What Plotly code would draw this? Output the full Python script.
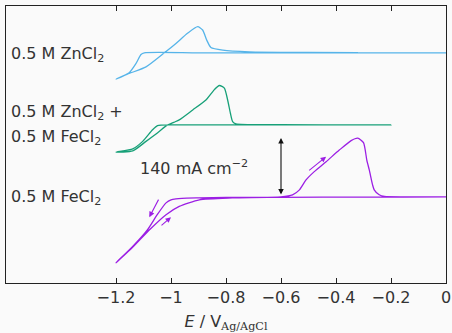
import plotly.graph_objects as go

# ---- data (potential in V vs Ag/AgCl, current density in mA cm^-2) ----
fe_E = [0, -0.3, -0.6, -0.8, -0.9, -0.96, -0.982, -1.0, -1.018, -1.05, -1.086, -1.141, -1.2,
        -1.144, -1.079, -1.018, -0.97, -0.897, -0.777, -0.6, -0.558, -0.533, -0.509, -0.479,
        -0.436, -0.388, -0.345, -0.321, -0.30, -0.288, -0.279, -0.267, -0.261, -0.243, -0.224,
        -0.15, 0]
fe_I = [0, -0.5, -1, -1.5, -2.5, -3.5, -4.8, -7, -14.5, -43, -80, -121, -159,
        -125, -80, -43, -23, -7, -2.4, 0, 5, 17, 41, 61,
        85, 113, 136, 142, 131, 89, 65, 29, 17, 5, 1,
        0, 0]

zf_E = [-0.2, -0.5, -0.764, -0.9, -1.0, -1.049, -1.067, -1.103, -1.139, -1.2,
        -1.139, -1.091, -1.043, -1.018, -0.99, -0.97, -0.921, -0.873, -0.843, -0.824,
        -0.806, -0.794, -0.784, -0.776, -0.764, -0.6, -0.2]
zf_I = [0, 0, 0, 0, 0, -1.7, -12, -40, -58, -66,
        -63, -40, -16, -2.4, 6, 12, 36, 60, 84.5, 95,
        88.6, 60, 28, 8, 2.4, 0.5, 0]

zn_E = [0, -0.5, -0.9, -1.097, -1.109, -1.127, -1.152, -1.2,
        -1.152, -1.091, -1.024, -0.982, -0.94, -0.903, -0.885, -0.87, -0.855, -0.812,
        -0.715, -0.5, -0.32]
zn_I = [0, 0, 0, 0, -4, -25.6, -48, -63.5,
        -50, -34, 0, 22.6, 47, 63, 55, 30.6, 13, 6.5,
        2.4, 1, 0.5]

offsets = {"zn": 348, "zf": 174, "fe": 0}
scale_bar = 140

tick_vals = [-1.2, -1.0, -0.8, -0.6, -0.4, -0.2, 0]
tick_text = ["\u22121.2", "\u22121", "\u22120.8", "\u22120.6", "\u22120.4", "\u22120.2", "0"]

labels = ["0.5 M ZnCl<sub>2</sub>", "0.5 M ZnCl<sub>2</sub> +", "0.5 M FeCl<sub>2</sub>", "0.5 M FeCl<sub>2</sub>"]

C_ZN = "#56b4e9"
C_ZF = "#17a078"
C_FE = "#9c1fe4"
FONT = "DejaVu Sans"
TXT = "#333333"
FS = 16

fig = go.Figure()
fig.add_trace(go.Scatter(x=zn_E, y=[v + offsets["zn"] for v in zn_I], mode="lines",
                         line=dict(color=C_ZN, width=1.3, shape="spline", smoothing=0.6)))
fig.add_trace(go.Scatter(x=zf_E, y=[v + offsets["zf"] for v in zf_I], mode="lines",
                         line=dict(color=C_ZF, width=1.3, shape="spline", smoothing=0.6)))
fig.add_trace(go.Scatter(x=fe_E, y=[v + offsets["fe"] for v in fe_I], mode="lines",
                         line=dict(color=C_FE, width=1.3, shape="spline", smoothing=0.6)))

ann = []
# labels
for txt, yv in zip(labels, [344, 203, 143.6, -1.2]):
    ann.append(dict(x=-1.588, y=yv, xref="x", yref="y", text=txt, showarrow=False,
                    xanchor="left", yanchor="middle", font=dict(family=FONT, size=FS, color=TXT)))
# sweep arrows (purple)
for (tx, ty, hx, hy) in [(-1.0425, -3, -1.079, -49), (-1.04, -72, -1.0, -49), (-0.503, 61, -0.436, 97)]:
    ann.append(dict(x=hx, y=hy, ax=tx, ay=ty, xref="x", yref="y", axref="x", ayref="y",
                    text="", showarrow=True, arrowhead=2, arrowsize=1, arrowwidth=1.1,
                    arrowcolor=C_FE))
# scale bar
ann.append(dict(x=-0.6, y=2 + scale_bar, ax=-0.6, ay=2, xref="x", yref="y", axref="x", ayref="y",
                text="", showarrow=True, arrowhead=2, startarrowhead=2, arrowside="end+start",
                arrowsize=1, arrowwidth=1.1, arrowcolor="#111111"))
ann.append(dict(x=-0.712, y=71, xref="x", yref="y", text=f"{scale_bar} mA cm<sup>\u22122</sup>",
                showarrow=False, xanchor="right", yanchor="middle",
                font=dict(family=FONT, size=FS, color=TXT)))

fig.update_layout(
    width=452, height=333,
    margin=dict(l=6, r=6, t=6, b=50),
    paper_bgcolor="#fafafa", plot_bgcolor="#fafafa",
    showlegend=False,
    annotations=ann,
    xaxis=dict(range=[-1.6, 0], tickvals=tick_vals, ticktext=tick_text,
               ticks="inside", ticklen=5, tickwidth=1, tickcolor="#222222",
               showline=True, linecolor="#222222", linewidth=1.3, mirror="ticks",
               showgrid=False, zeroline=False, automargin=False,
               tickfont=dict(family=FONT, size=FS, color=TXT),
               title=dict(text="<i>E</i> / V<sub><span style=\"font-family:'DejaVu Serif'\">Ag/AgCl</span></sub>",
                          font=dict(family=FONT, size=FS, color=TXT), standoff=9)),
    yaxis=dict(range=[-208, 461], showticklabels=False, ticks="", showgrid=False,
               zeroline=False, showline=True, linecolor="#222222", linewidth=1.3, mirror=True),
)

fig.write_html("out.html", config={"displayModeBar": False},
               post_script="document.body.style.margin='0px';")
